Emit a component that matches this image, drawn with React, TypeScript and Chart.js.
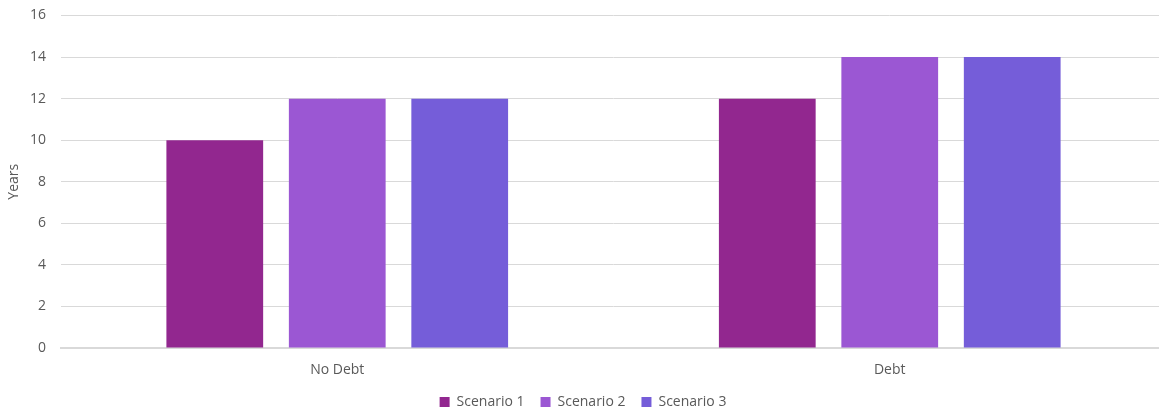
import React, { useEffect, useRef } from "react";
import { Chart, registerables } from "chart.js";

Chart.register(...registerables);

const categories = ["No Debt", "Debt"];
const seriesNames = ["Scenario 1", "Scenario 2", "Scenario 3"];
const scenario1 = [10, 12];
const scenario2 = [12, 14];
const scenario3 = [12, 14];
const colors = ["#92278F", "#9B57D3", "#755DD9"];
const yMin = 0;
const yMax = 16;
const yStep = 2;
const yTitle = "Years";

const FONT = "'Open Sans', 'Noto Sans', sans-serif";
const TEXT = "#595959";

export default function App() {
  const ref = useRef<HTMLCanvasElement>(null);
  useEffect(() => {
    if (!ref.current) return;
    const values = [scenario1, scenario2, scenario3];
    const chart = new Chart(ref.current, {
      type: "bar",
      data: {
        labels: categories,
        datasets: seriesNames.map((name, i) => ({
          label: name,
          data: values[i],
          backgroundColor: colors[i],
          borderWidth: 0,
          categoryPercentage: 0.665,
          barPercentage: 0.79,
        })),
      },
      options: {
        animation: false,
        responsive: false,
        maintainAspectRatio: false,
        layout: { padding: { top: 15.5, left: 0, right: 0, bottom: 2 } },
        plugins: {
          tooltip: { enabled: false },
          legend: {
            position: "bottom",
            labels: {
              boxWidth: 10,
              boxHeight: 10,
              padding: 16,
              color: TEXT,
              font: { family: FONT, size: 14 },
            },
          },
        },
        scales: {
          x: {
            grid: { display: false, drawTicks: false },
            border: { display: true, color: "#D9D9D9", width: 2 },
            ticks: { color: TEXT, font: { family: FONT, size: 14 }, padding: 14 },
            afterFit: (s: any) => {
              s.height = 31;
              s.paddingLeft = 0;
              s.paddingRight = 0;
            },
          },
          y: {
            min: yMin,
            max: yMax,
            ticks: {
              stepSize: yStep,
              color: TEXT,
              font: { family: FONT, size: 14 },
              padding: 15,
            },
            grid: { color: "#D9D9D9", drawTicks: false, lineWidth: 1 },
            border: { display: false },
            title: {
              display: true,
              text: yTitle,
              color: TEXT,
              font: { family: FONT, size: 14 },
              padding: { top: 6, bottom: 4 },
            },
            afterFit: (s: any) => {
              s.width = 61;
              s.paddingTop = 0;
              s.paddingBottom = 0;
            },
          },
        },
      },
    });
    return () => chart.destroy();
  }, []);
  return (
    <div
      style={{
        position: "fixed",
        left: 0,
        top: 0,
        width: 1159,
        height: 411,
        overflow: "hidden",
        background: "#fff",
      }}
    >
      <canvas ref={ref} width={1166} height={421} style={{ display: "block" }} />
    </div>
  );
}
